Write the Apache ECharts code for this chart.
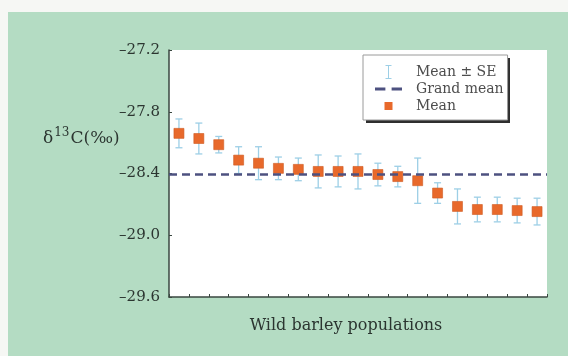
<!DOCTYPE html>
<html>
<head>
<meta charset="utf-8">
<script src="https://cdn.jsdelivr.net/npm/echarts@6/dist/echarts.min.js"></script>
<style>
  html, body { margin: 0; padding: 0; background: #f6f7f4; }
  #chart { width: 568px; height: 356px; }
</style>
</head>
<body>
<div id="chart"></div>
<script>
// Populations ranked by mean carbon isotope discrimination
const populations = ['1','2','3','4','5','6','7','8','9','10','11','12','13','14','15','16','17','18','19'];
const meanValues = [-28.01, -28.06, -28.12, -28.27, -28.30, -28.35, -28.36, -28.38, -28.38, -28.38,
                    -28.41, -28.43, -28.47, -28.59, -28.72, -28.75, -28.75, -28.76, -28.77];
const seValues = [0.14, 0.15, 0.08, 0.13, 0.16, 0.11, 0.11, 0.16, 0.15, 0.17,
                  0.11, 0.10, 0.22, 0.10, 0.17, 0.12, 0.12, 0.12, 0.13];
const grandMean = -28.41;
const yTicks = [-29.6, -29.0, -28.4, -27.8, -27.2];

const SERIF = 'DejaVu Serif';
const TEXT = '#2b3530';
const ERR = '#9dcfe6';
const ORANGE = '#e8692b';
const NAVY = '#4d5180';

const errorData = populations.map((p, i) => [i, meanValues[i] - seValues[i], meanValues[i] + seValues[i]]);
const meanData = populations.map((p, i) => [i, meanValues[i]]);

const chart = echarts.init(document.getElementById('chart'));
chart.setOption({
  backgroundColor: '#f6f7f4',
  animation: false,
  graphic: [
    // mint panel behind the whole figure
    { type: 'rect', z: -10, silent: true, shape: { x: 8, y: 12, width: 560, height: 344 }, style: { fill: '#b4dcc3' } },
    // drop shadow under the key box
    { type: 'rect', z: 3, silent: true, shape: { x: 366, y: 58, width: 144, height: 65 }, style: { fill: '#2e2e2e' } },
    {
      type: 'text', left: 43, top: 127, silent: true,
      style: {
        text: '{a|δ}{b|13}{a|C(‰)}',
        rich: {
          a: { fontFamily: SERIF, fontSize: 17, fill: TEXT, lineHeight: 24 },
          b: { fontFamily: SERIF, fontSize: 12, fill: TEXT, verticalAlign: 'top', lineHeight: 15, padding: [0, 1, 0, 1] }
        }
      }
    }
  ],
  grid: { left: 169, right: 21, top: 50, bottom: 59, show: true, backgroundColor: '#ffffff', borderWidth: 0 },
  legend: {
    left: 363, top: 55, orient: 'vertical', z: 5,
    padding: [10, 4, 7, 12],
    itemGap: 3, itemWidth: 27, itemHeight: 14,
    backgroundColor: '#ffffff', borderColor: '#9a9a9a', borderWidth: 1,
    selectedMode: false,
    textStyle: { fontFamily: SERIF, fontSize: 14, color: '#4d4d4d', padding: [0, 0, 0, 9] },
    data: [
      { name: 'Mean ± SE', icon: 'path://M0,0H6V1H3.5V13H6V14H0V13H2.5V1H0Z', itemStyle: { color: ERR } },
      { name: 'Grand mean', icon: 'path://M0,0H10V3H0Z M16,0H26V3H16Z', itemStyle: { color: NAVY } },
      { name: 'Mean', icon: 'path://M-3,-3 M11,11 M0,0H8V8H0Z', itemStyle: { color: ORANGE, borderWidth: 0 } }
    ]
  },
  xAxis: {
    type: 'category', data: populations, boundaryGap: true,
    name: 'Wild barley populations', nameLocation: 'middle', nameGap: 21,
    nameTextStyle: { fontFamily: SERIF, fontSize: 16, color: TEXT, padding: [0, 24, 0, 0] },
    axisLine: { lineStyle: { color: '#3a4740', width: 1.5 } },
    axisTick: { show: true, inside: true, length: 3, lineStyle: { color: '#3a4740' } },
    axisLabel: { show: false },
    splitLine: { show: false }
  },
  yAxis: {
    type: 'value', min: -29.6, max: -27.2,
    axisLine: { show: true, lineStyle: { color: '#3a4740', width: 1.5 } },
    axisTick: { show: true, inside: true, length: 3, customValues: yTicks, lineStyle: { color: '#3a4740' } },
    axisLabel: {
      customValues: yTicks, margin: 9,
      fontFamily: SERIF, fontSize: 15, color: TEXT,
      formatter: v => '–' + Math.abs(v).toFixed(1)
    },
    splitLine: { show: false }
  },
  series: [
    {
      name: 'Mean ± SE', type: 'custom', z: 2,
      itemStyle: { color: ERR },
      data: errorData,
      encode: { x: 0, y: [1, 2] },
      renderItem: function (params, api) {
        const x = api.value(0);
        const lo = api.coord([x, api.value(1)]);
        const hi = api.coord([x, api.value(2)]);
        const cap = 3.5;
        const style = { stroke: ERR, lineWidth: 1.3, fill: null };
        return {
          type: 'group',
          children: [
            { type: 'line', shape: { x1: lo[0], y1: lo[1], x2: hi[0], y2: hi[1] }, style: style },
            { type: 'line', shape: { x1: lo[0] - cap, y1: lo[1], x2: lo[0] + cap, y2: lo[1] }, style: style },
            { type: 'line', shape: { x1: hi[0] - cap, y1: hi[1], x2: hi[0] + cap, y2: hi[1] }, style: style }
          ]
        };
      }
    },
    {
      name: 'Grand mean', type: 'line', z: 3, data: [],
      itemStyle: { color: NAVY },
      markLine: {
        silent: true, symbol: 'none', label: { show: false },
        lineStyle: { color: NAVY, width: 2.5, type: [8, 5] },
        data: [{ yAxis: grandMean }]
      }
    },
    {
      name: 'Mean', type: 'scatter', z: 4,
      symbol: 'rect', symbolSize: 10,
      itemStyle: { color: ORANGE, opacity: 1, borderColor: '#cf5a22', borderWidth: 0.6 },
      data: meanData
    }
  ]
});
</script>
</body>
</html>
